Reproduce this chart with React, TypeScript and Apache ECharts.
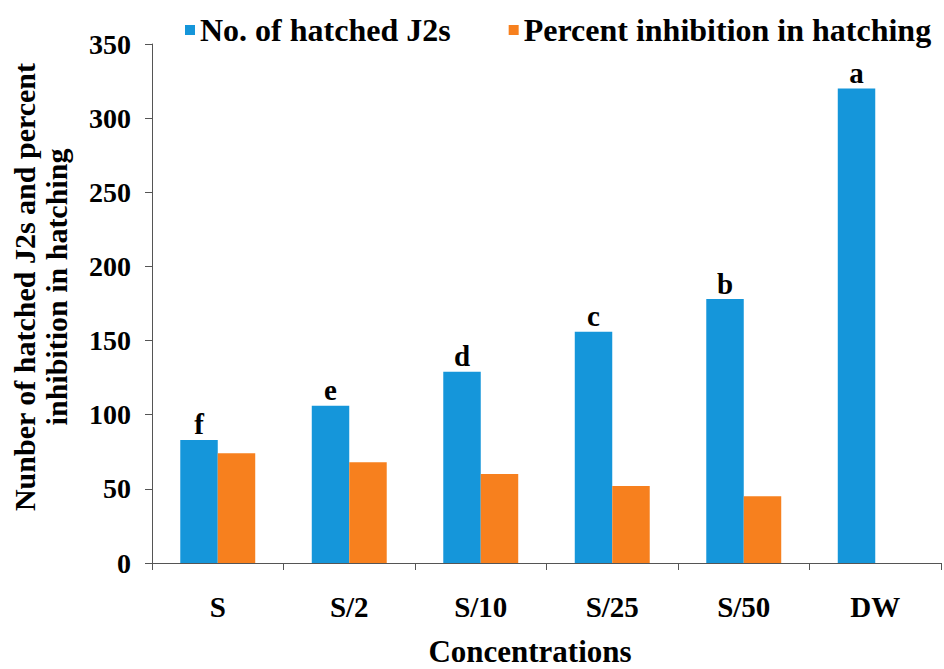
import React, { useEffect, useRef } from "react";
import * as echarts from "echarts";

const categories = ["S", "S/2", "S/10", "S/25", "S/50", "DW"];
const hatchedJ2s = [83, 106, 129, 156, 178, 320];
const percentInhibition = [74, 68, 60, 52, 45, 0];
const letters = ["f", "e", "d", "c", "b", "a"];
const yTicks = [0, 50, 100, 150, 200, 250, 300, 350];

const FONT = "Liberation Serif";

export default function App() {
  const ref = useRef<HTMLDivElement>(null);
  useEffect(() => {
    document.body.style.margin = "0";
    if (!ref.current) return;
    const chart = echarts.init(ref.current, undefined, { renderer: "svg" });
    chart.setOption({
      animation: false,
      textStyle: { fontFamily: FONT },
      legend: {
        left: 180,
        top: 9,
        itemWidth: 10,
        itemHeight: 10,
        itemGap: 58,
        icon: "rect",
        textStyle: { fontFamily: FONT, fontWeight: "bold", fontSize: 32, color: "#000" },
        data: ["No. of hatched J2s", "Percent inhibition in hatching"],
      },
      grid: { left: 152, right: 3, top: 44, bottom: 106, containLabel: false },
      xAxis: {
        type: "category",
        data: categories,
        axisLine: { lineStyle: { color: "#555", width: 1 } },
        axisTick: { show: true, length: 7, lineStyle: { color: "#555" } },
        axisLabel: { fontFamily: FONT, fontWeight: "bold", fontSize: 29, color: "#000", margin: 29 },
      },
      yAxis: {
        type: "value",
        min: yTicks[0],
        max: yTicks[yTicks.length - 1],
        interval: 50,
        splitLine: { show: false },
        axisLine: { show: true, lineStyle: { color: "#555", width: 1 } },
        axisTick: { show: true, length: 7, lineStyle: { color: "#555" } },
        axisLabel: { fontFamily: FONT, fontWeight: "bold", fontSize: 28, color: "#000", margin: 21 },
      },
      series: [
        {
          name: "No. of hatched J2s",
          type: "bar",
          data: hatchedJ2s,
          barGap: "0%",
          barCategoryGap: "43%",
          itemStyle: { color: "#1596DA" },
          label: {
            show: true,
            position: "top",
            distance: 1,
            formatter: (p: any) => letters[p.dataIndex],
            fontFamily: FONT,
            fontWeight: "bold",
            fontSize: 29,
            color: "#000",
          },
        },
        {
          name: "Percent inhibition in hatching",
          type: "bar",
          data: percentInhibition,
          itemStyle: { color: "#F7801E" },
        },
      ],
      graphic: [
        {
          type: "text",
          x: 40,
          y: 287,
          rotation: Math.PI / 2,
          style: {
            text: "Nunber of hatched J2s and percent\ninhibition in hatching",
            fontFamily: FONT,
            fontWeight: "bold",
            fontSize: 30,
            fill: "#000",
            align: "center",
            verticalAlign: "middle",
            lineHeight: 32,
          },
        },
        {
          type: "text",
          x: 530,
          y: 651,
          style: {
            text: "Concentrations",
            fontFamily: FONT,
            fontWeight: "bold",
            fontSize: 31,
            fill: "#000",
            align: "center",
            verticalAlign: "middle",
          },
        },
      ],
    });
    return () => chart.dispose();
  }, []);
  return <div ref={ref} style={{ width: 944, height: 669 }} />;
}
